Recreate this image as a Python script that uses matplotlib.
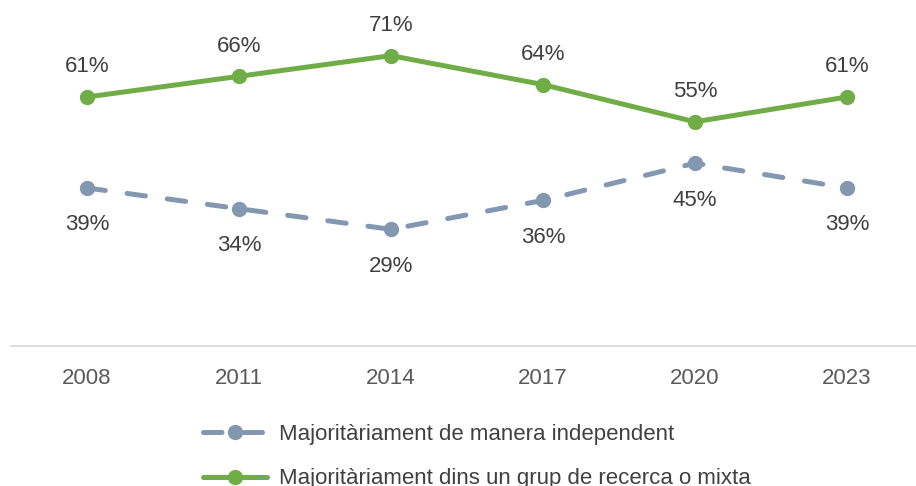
import matplotlib.pyplot as plt

years = ["2008", "2011", "2014", "2017", "2020", "2023"]
independent = [39, 34, 29, 36, 45, 39]
research_group = [61, 66, 71, 64, 55, 61]

label_independent = "Majoritàriament de manera independent"
label_group = "Majoritàriament dins un grup de recerca o mixta"

plt.rcParams['font.family'] = ['Liberation Sans', 'DejaVu Sans']

W, H = 916, 486
fig = plt.figure(figsize=(W / 100, H / 100), dpi=100)
ax = fig.add_axes([11 / W, 1 - 346 / H, 1 - 11 / W, (346 - 18.4) / H])

x = list(range(len(years)))
green = "#70AD47"
grey = "#8497B0"

ax.plot(x, independent, color=grey, linewidth=3.6, linestyle=(0, (3.7, 4.4)),
        dash_capstyle='round', marker='o', markersize=10, label=label_independent)
ax.plot(x, research_group, color=green, linewidth=3.6, solid_capstyle='round',
        marker='o', markersize=10, label=label_group)

for i, v in enumerate(research_group):
    ax.annotate(f"{v}%", (i, v), xytext=(0, 30), textcoords='offset pixels',
                ha='center', va='center', fontsize=16, color="#404040")
for i, v in enumerate(independent):
    ax.annotate(f"{v}%", (i, v), xytext=(0, -37), textcoords='offset pixels',
                ha='center', va='center', fontsize=16, color="#404040")

ax.set_xlim(-0.5, (916 - 87) / 152)
ax.set_ylim(0.8, 80)
ax.set_xticks(x)
ax.set_xticklabels(years, fontsize=16, color="#595959")
ax.tick_params(axis='x', length=0, pad=16)
ax.set_yticks([])
for side in ['top', 'right', 'left']:
    ax.spines[side].set_visible(False)
ax.spines['bottom'].set_color("#D9D9D9")
ax.spines['bottom'].set_linewidth(1.3)

fig.legend(loc='upper left', bbox_to_anchor=(203 / W, 1 - 424 / H), frameon=False,
           fontsize=16, handlelength=2.9, handletextpad=0.5, labelspacing=1.05,
           borderpad=0, borderaxespad=0, labelcolor="#404040")

fig.savefig("out.png", dpi=100)
